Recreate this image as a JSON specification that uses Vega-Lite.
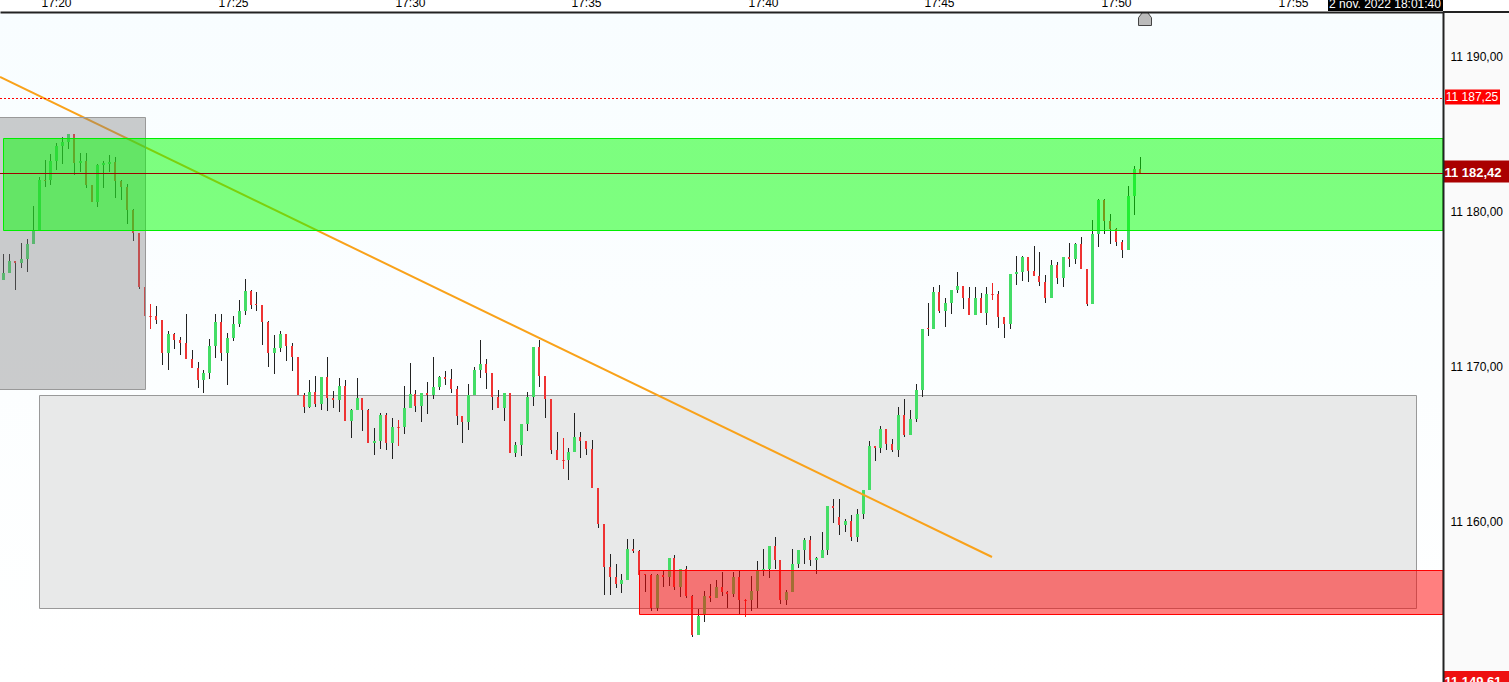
{
"$schema":"https://vega.github.io/schema/vega-lite/v6.json",
"width":1443,"height":670,
"autosize":{"type":"none"},
"padding":{"left":0,"top":12,"right":66,"bottom":0},
"background":"#ffffff",
"view":{"stroke":null,"fill":{"x1":0,"y1":0,"x2":0,"y2":1,"gradient":"linear","stops":[{"offset":0,"color":"#f8fdff"},{"offset":1,"color":"#ffffff"}]}},
"datasets":{
"zones":[
{"zone":"range","start":62370.6,"end":64709.7,"top":11168.13,"bottom":11154.39},
{"zone":"box","start":62290,"end":62550.7,"top":11186.06,"bottom":11168.52},
{"zone":"supply","start":62309.5,"end":64755.5,"top":11184.71,"bottom":11178.77},
{"zone":"demand","start":63389.8,"end":64755.5,"top":11156.84,"bottom":11154.00},
{"zone":"panel","start":64755.5,"end":64875,"top":11192.84,"bottom":11149.61},
{"zone":"clock","start":64560,"end":64755.5,"top":11193.70,"bottom":11192.90}
],
"trend":[
{"t":62304.4,"price":11188.65},
{"t":63989.5,"price":11157.68}
],
"candles":[
{"t":62310,"open":11175.55,"high":11177.23,"low":11175.55,"close":11176.00},
{"t":62320,"open":11176.00,"high":11177.23,"low":11176.00,"close":11176.78},
{"t":62330,"open":11176.78,"high":11176.78,"low":11174.91,"close":11176.65},
{"t":62340,"open":11176.65,"high":11177.92,"low":11176.33,"close":11176.91},
{"t":62350,"open":11176.91,"high":11178.20,"low":11176.07,"close":11177.87},
{"t":62360,"open":11177.87,"high":11180.33,"low":11177.87,"close":11178.78},
{"t":62370,"open":11178.78,"high":11182.20,"low":11178.78,"close":11182.00},
{"t":62380,"open":11182.00,"high":11183.29,"low":11181.55,"close":11181.94},
{"t":62390,"open":11182.00,"high":11183.68,"low":11181.68,"close":11183.23},
{"t":62400,"open":11183.23,"high":11184.39,"low":11182.65,"close":11184.20},
{"t":62410,"open":11184.20,"high":11184.78,"low":11183.04,"close":11184.46},
{"t":62420,"open":11184.46,"high":11184.97,"low":11184.00,"close":11184.97},
{"t":62430,"open":11184.97,"high":11184.97,"low":11182.33,"close":11183.10},
{"t":62440,"open":11183.10,"high":11183.75,"low":11182.52,"close":11183.23},
{"t":62450,"open":11183.23,"high":11183.75,"low":11181.49,"close":11181.68},
{"t":62460,"open":11181.68,"high":11181.68,"low":11180.58,"close":11180.58},
{"t":62470,"open":11180.58,"high":11183.04,"low":11180.26,"close":11182.97},
{"t":62480,"open":11182.97,"high":11183.23,"low":11181.49,"close":11183.10},
{"t":62490,"open":11183.04,"high":11183.62,"low":11182.52,"close":11183.17},
{"t":62500,"open":11183.17,"high":11183.49,"low":11180.84,"close":11181.94},
{"t":62510,"open":11181.94,"high":11182.00,"low":11180.71,"close":11181.55},
{"t":62520,"open":11181.55,"high":11181.75,"low":11179.17,"close":11180.07},
{"t":62530,"open":11180.07,"high":11180.13,"low":11178.07,"close":11178.58},
{"t":62540,"open":11178.58,"high":11178.58,"low":11174.97,"close":11175.10},
{"t":62550,"open":11175.10,"high":11175.10,"low":11173.23,"close":11173.23},
{"t":62560,"open":11173.21,"high":11174.00,"low":11172.39,"close":11173.21},
{"t":62570,"open":11173.23,"high":11173.87,"low":11172.71,"close":11172.97},
{"t":62580,"open":11172.97,"high":11172.97,"low":11170.07,"close":11170.84},
{"t":62590,"open":11170.84,"high":11172.26,"low":11169.75,"close":11172.07},
{"t":62600,"open":11172.07,"high":11172.13,"low":11171.10,"close":11171.68},
{"t":62610,"open":11171.68,"high":11171.87,"low":11170.71,"close":11171.49},
{"t":62620,"open":11171.49,"high":11173.36,"low":11170.46,"close":11170.46},
{"t":62630,"open":11170.46,"high":11171.04,"low":11169.87,"close":11169.87},
{"t":62640,"open":11169.87,"high":11170.26,"low":11168.58,"close":11169.10},
{"t":62650,"open":11169.10,"high":11169.75,"low":11168.26,"close":11169.55},
{"t":62660,"open":11169.55,"high":11171.75,"low":11169.17,"close":11171.29},
{"t":62670,"open":11171.29,"high":11173.36,"low":11170.52,"close":11172.84},
{"t":62680,"open":11172.84,"high":11173.36,"low":11170.33,"close":11170.84},
{"t":62690,"open":11170.84,"high":11172.13,"low":11168.78,"close":11171.81},
{"t":62700,"open":11171.81,"high":11173.23,"low":11171.62,"close":11172.71},
{"t":62710,"open":11172.71,"high":11174.26,"low":11172.52,"close":11173.55},
{"t":62720,"open":11173.55,"high":11175.62,"low":11173.29,"close":11174.84},
{"t":62730,"open":11174.84,"high":11174.91,"low":11173.68,"close":11173.94},
{"t":62740,"open":11174.00,"high":11174.78,"low":11173.55,"close":11173.94},
{"t":62750,"open":11173.94,"high":11173.94,"low":11171.36,"close":11172.84},
{"t":62760,"open":11172.84,"high":11172.91,"low":11169.94,"close":11170.84},
{"t":62770,"open":11170.84,"high":11172.00,"low":11169.49,"close":11171.17},
{"t":62780,"open":11171.17,"high":11172.26,"low":11170.91,"close":11172.07},
{"t":62790,"open":11172.07,"high":11172.07,"low":11170.33,"close":11171.29},
{"t":62800,"open":11171.29,"high":11171.49,"low":11169.68,"close":11170.58},
{"t":62810,"open":11170.58,"high":11170.58,"low":11168.13,"close":11168.13},
{"t":62820,"open":11168.13,"high":11168.26,"low":11166.97,"close":11167.35},
{"t":62830,"open":11167.35,"high":11169.09,"low":11167.29,"close":11168.32},
{"t":62840,"open":11168.32,"high":11169.35,"low":11167.35,"close":11167.55},
{"t":62850,"open":11167.55,"high":11169.29,"low":11167.16,"close":11169.29},
{"t":62860,"open":11169.29,"high":11170.58,"low":11167.09,"close":11167.93},
{"t":62870,"open":11167.93,"high":11168.38,"low":11167.29,"close":11167.80},
{"t":62880,"open":11167.80,"high":11169.22,"low":11167.03,"close":11168.71},
{"t":62890,"open":11168.71,"high":11169.09,"low":11166.45,"close":11166.45},
{"t":62900,"open":11166.45,"high":11167.22,"low":11165.35,"close":11167.16},
{"t":62910,"open":11167.16,"high":11169.22,"low":11167.16,"close":11167.93},
{"t":62920,"open":11167.93,"high":11167.93,"low":11165.80,"close":11167.16},
{"t":62930,"open":11167.16,"high":11167.22,"low":11165.03,"close":11165.03},
{"t":62940,"open":11165.03,"high":11166.00,"low":11164.26,"close":11165.16},
{"t":62950,"open":11165.16,"high":11166.97,"low":11164.64,"close":11166.84},
{"t":62960,"open":11166.84,"high":11166.97,"low":11164.58,"close":11165.03},
{"t":62970,"open":11165.03,"high":11166.64,"low":11164.00,"close":11166.06},
{"t":62980,"open":11166.04,"high":11166.51,"low":11164.84,"close":11166.04},
{"t":62990,"open":11166.06,"high":11168.71,"low":11165.61,"close":11167.29},
{"t":63000,"open":11167.29,"high":11170.19,"low":11167.29,"close":11168.19},
{"t":63010,"open":11168.19,"high":11168.45,"low":11167.03,"close":11167.42},
{"t":63020,"open":11167.42,"high":11168.26,"low":11166.38,"close":11168.26},
{"t":63030,"open":11168.26,"high":11168.97,"low":11166.90,"close":11168.13},
{"t":63040,"open":11168.13,"high":11170.58,"low":11167.87,"close":11168.64},
{"t":63050,"open":11168.64,"high":11169.35,"low":11168.45,"close":11169.29},
{"t":63060,"open":11169.29,"high":11169.67,"low":11168.77,"close":11169.16},
{"t":63070,"open":11169.16,"high":11169.80,"low":11168.26,"close":11168.51},
{"t":63080,"open":11168.51,"high":11168.71,"low":11166.19,"close":11166.77},
{"t":63090,"open":11166.77,"high":11166.77,"low":11165.03,"close":11166.38},
{"t":63100,"open":11166.38,"high":11168.84,"low":11165.87,"close":11168.13},
{"t":63110,"open":11168.13,"high":11169.93,"low":11168.13,"close":11169.74},
{"t":63120,"open":11169.74,"high":11171.67,"low":11169.22,"close":11170.13},
{"t":63130,"open":11170.13,"high":11170.45,"low":11168.51,"close":11169.55},
{"t":63140,"open":11169.55,"high":11169.55,"low":11167.16,"close":11168.00},
{"t":63150,"open":11168.00,"high":11168.45,"low":11167.29,"close":11167.29},
{"t":63160,"open":11167.29,"high":11168.26,"low":11166.45,"close":11168.26},
{"t":63170,"open":11168.26,"high":11168.26,"low":11164.38,"close":11164.38},
{"t":63180,"open":11164.38,"high":11165.09,"low":11164.13,"close":11164.90},
{"t":63190,"open":11164.90,"high":11166.26,"low":11164.19,"close":11166.26},
{"t":63200,"open":11166.26,"high":11168.32,"low":11165.80,"close":11168.00},
{"t":63210,"open":11168.00,"high":11171.22,"low":11167.42,"close":11171.22},
{"t":63220,"open":11171.22,"high":11171.67,"low":11168.64,"close":11169.35},
{"t":63230,"open":11169.35,"high":11169.35,"low":11166.64,"close":11167.87},
{"t":63240,"open":11167.87,"high":11167.87,"low":11164.32,"close":11164.58},
{"t":63250,"open":11164.58,"high":11165.74,"low":11163.93,"close":11163.93},
{"t":63260,"open":11163.91,"high":11165.35,"low":11163.35,"close":11163.91},
{"t":63270,"open":11163.93,"high":11164.71,"low":11162.64,"close":11164.45},
{"t":63280,"open":11164.45,"high":11166.97,"low":11164.45,"close":11165.42},
{"t":63290,"open":11165.42,"high":11165.74,"low":11164.06,"close":11165.16},
{"t":63300,"open":11165.16,"high":11165.16,"low":11164.26,"close":11164.64},
{"t":63310,"open":11164.65,"high":11165.23,"low":11162.13,"close":11162.13},
{"t":63320,"open":11162.13,"high":11162.13,"low":11159.55,"close":11159.81},
{"t":63330,"open":11159.81,"high":11159.81,"low":11155.23,"close":11157.04},
{"t":63340,"open":11157.04,"high":11157.88,"low":11155.23,"close":11156.39},
{"t":63350,"open":11156.39,"high":11157.23,"low":11155.68,"close":11155.94},
{"t":63360,"open":11155.94,"high":11156.59,"low":11155.36,"close":11156.20},
{"t":63370,"open":11156.20,"high":11158.84,"low":11156.20,"close":11158.20},
{"t":63380,"open":11158.20,"high":11158.84,"low":11157.94,"close":11158.07},
{"t":63390,"open":11158.07,"high":11158.13,"low":11156.52,"close":11156.52},
{"t":63400,"open":11156.59,"high":11156.59,"low":11155.42,"close":11156.52},
{"t":63410,"open":11156.52,"high":11156.59,"low":11154.20,"close":11154.39},
{"t":63420,"open":11154.39,"high":11156.59,"low":11154.20,"close":11156.52},
{"t":63430,"open":11156.52,"high":11156.84,"low":11155.75,"close":11156.39},
{"t":63440,"open":11156.39,"high":11157.62,"low":11155.81,"close":11157.62},
{"t":63450,"open":11157.62,"high":11157.81,"low":11155.55,"close":11155.75},
{"t":63460,"open":11155.75,"high":11156.91,"low":11155.10,"close":11156.91},
{"t":63470,"open":11156.91,"high":11157.10,"low":11155.04,"close":11155.17},
{"t":63480,"open":11155.17,"high":11155.23,"low":11152.52,"close":11152.65},
{"t":63490,"open":11152.65,"high":11154.33,"low":11152.65,"close":11153.88},
{"t":63500,"open":11153.94,"high":11155.49,"low":11153.49,"close":11155.17},
{"t":63510,"open":11155.17,"high":11155.94,"low":11154.78,"close":11155.04},
{"t":63520,"open":11155.04,"high":11156.20,"low":11155.04,"close":11155.75},
{"t":63530,"open":11155.75,"high":11156.71,"low":11155.17,"close":11155.42},
{"t":63540,"open":11155.42,"high":11155.49,"low":11154.39,"close":11155.30},
{"t":63550,"open":11155.30,"high":11156.71,"low":11155.10,"close":11156.39},
{"t":63560,"open":11156.39,"high":11156.84,"low":11154.00,"close":11154.91},
{"t":63570,"open":11154.89,"high":11154.97,"low":11153.81,"close":11154.89},
{"t":63580,"open":11154.91,"high":11156.46,"low":11154.20,"close":11155.49},
{"t":63590,"open":11155.49,"high":11157.42,"low":11154.39,"close":11156.78},
{"t":63600,"open":11156.78,"high":11158.20,"low":11156.46,"close":11156.91},
{"t":63610,"open":11156.91,"high":11158.39,"low":11156.33,"close":11158.39},
{"t":63620,"open":11158.39,"high":11158.97,"low":11156.91,"close":11157.49},
{"t":63630,"open":11157.49,"high":11157.49,"low":11154.65,"close":11154.91},
{"t":63640,"open":11154.91,"high":11155.55,"low":11154.59,"close":11155.42},
{"t":63650,"open":11155.42,"high":11158.20,"low":11155.42,"close":11157.23},
{"t":63660,"open":11157.23,"high":11158.13,"low":11156.97,"close":11158.13},
{"t":63670,"open":11158.13,"high":11158.91,"low":11157.23,"close":11158.78},
{"t":63680,"open":11158.78,"high":11159.04,"low":11157.10,"close":11157.49},
{"t":63690,"open":11157.49,"high":11157.68,"low":11156.59,"close":11157.62},
{"t":63700,"open":11157.62,"high":11159.30,"low":11157.62,"close":11158.13},
{"t":63710,"open":11158.13,"high":11160.97,"low":11157.81,"close":11160.97},
{"t":63720,"open":11160.97,"high":11161.42,"low":11159.88,"close":11160.84},
{"t":63730,"open":11160.26,"high":11161.42,"low":11159.10,"close":11159.75},
{"t":63740,"open":11159.75,"high":11160.13,"low":11159.30,"close":11160.00},
{"t":63750,"open":11160.00,"high":11160.39,"low":11158.71,"close":11158.97},
{"t":63760,"open":11158.97,"high":11160.78,"low":11158.65,"close":11160.46},
{"t":63770,"open":11160.46,"high":11162.00,"low":11160.13,"close":11162.00},
{"t":63780,"open":11162.00,"high":11165.16,"low":11162.00,"close":11164.84},
{"t":63790,"open":11164.84,"high":11164.84,"low":11163.87,"close":11164.71},
{"t":63800,"open":11164.71,"high":11166.13,"low":11164.38,"close":11165.93},
{"t":63810,"open":11165.93,"high":11165.93,"low":11164.58,"close":11164.96},
{"t":63820,"open":11164.96,"high":11165.29,"low":11164.45,"close":11164.58},
{"t":63830,"open":11164.58,"high":11167.35,"low":11164.13,"close":11166.84},
{"t":63840,"open":11166.84,"high":11167.87,"low":11165.42,"close":11165.54},
{"t":63850,"open":11165.54,"high":11167.16,"low":11165.54,"close":11166.58},
{"t":63860,"open":11166.58,"high":11168.84,"low":11166.38,"close":11168.45},
{"t":63870,"open":11168.45,"high":11172.38,"low":11168.00,"close":11172.38},
{"t":63880,"open":11172.45,"high":11174.06,"low":11171.93,"close":11172.38},
{"t":63890,"open":11172.38,"high":11175.09,"low":11172.38,"close":11174.77},
{"t":63900,"open":11174.77,"high":11175.22,"low":11173.42,"close":11173.54},
{"t":63910,"open":11173.54,"high":11174.38,"low":11172.51,"close":11174.06},
{"t":63920,"open":11174.06,"high":11174.90,"low":11173.35,"close":11174.90},
{"t":63930,"open":11174.90,"high":11176.06,"low":11174.71,"close":11175.16},
{"t":63940,"open":11175.16,"high":11175.16,"low":11173.67,"close":11174.38},
{"t":63950,"open":11174.38,"high":11175.09,"low":11173.29,"close":11173.29},
{"t":63960,"open":11173.29,"high":11175.09,"low":11173.29,"close":11174.38},
{"t":63970,"open":11174.38,"high":11174.71,"low":11173.42,"close":11173.42},
{"t":63980,"open":11173.42,"high":11175.09,"low":11172.64,"close":11174.64},
{"t":63990,"open":11174.62,"high":11175.35,"low":11174.25,"close":11174.62},
{"t":64000,"open":11174.64,"high":11174.84,"low":11172.45,"close":11173.16},
{"t":64010,"open":11173.16,"high":11173.16,"low":11171.80,"close":11172.71},
{"t":64020,"open":11172.71,"high":11175.94,"low":11172.39,"close":11175.94},
{"t":64030,"open":11175.94,"high":11177.10,"low":11175.23,"close":11176.07},
{"t":64040,"open":11176.07,"high":11177.10,"low":11175.49,"close":11177.04},
{"t":64050,"open":11177.04,"high":11177.04,"low":11175.42,"close":11176.13},
{"t":64060,"open":11176.13,"high":11177.75,"low":11175.81,"close":11175.81},
{"t":64070,"open":11175.81,"high":11177.36,"low":11175.17,"close":11175.42},
{"t":64080,"open":11175.42,"high":11175.88,"low":11174.07,"close":11174.39},
{"t":64090,"open":11174.39,"high":11176.84,"low":11174.39,"close":11176.52},
{"t":64100,"open":11176.52,"high":11176.71,"low":11175.29,"close":11175.68},
{"t":64110,"open":11175.68,"high":11177.04,"low":11175.10,"close":11177.04},
{"t":64120,"open":11177.04,"high":11177.94,"low":11176.39,"close":11176.91},
{"t":64130,"open":11176.91,"high":11177.94,"low":11176.59,"close":11177.88},
{"t":64140,"open":11177.88,"high":11178.33,"low":11176.26,"close":11176.26},
{"t":64150,"open":11176.26,"high":11176.26,"low":11173.88,"close":11174.00},
{"t":64160,"open":11174.00,"high":11179.42,"low":11174.00,"close":11178.52},
{"t":64170,"open":11178.52,"high":11180.78,"low":11177.68,"close":11180.71},
{"t":64180,"open":11180.71,"high":11180.78,"low":11178.52,"close":11179.36},
{"t":64190,"open":11179.36,"high":11179.81,"low":11177.88,"close":11178.84},
{"t":64200,"open":11178.84,"high":11178.91,"low":11177.75,"close":11178.00},
{"t":64210,"open":11178.00,"high":11178.13,"low":11176.97,"close":11177.49},
{"t":64220,"open":11177.49,"high":11181.62,"low":11177.49,"close":11180.97},
{"t":64230,"open":11180.97,"high":11182.91,"low":11179.75,"close":11182.71},
{"t":64240,"open":11182.71,"high":11183.49,"low":11182.46,"close":11182.46}
]
},
"layer":[
{"data":{"name":"zones"},"transform":[{"filter":"datum.zone=='range'"}],
 "mark":{"type":"rect","fill":"#e8e9e9","stroke":"#999999","strokeWidth":1,"xOffset":0.5,"x2Offset":0.5,"yOffset":0.5,"y2Offset":0.5},
 "encoding":{
  "x":{"field":"start","type":"quantitative","title":null,
   "scale":{"domain":[62304.4,64755.5],"nice":false,"zero":false,"padding":0,"round":true},
   "axis":{"orient":"top","title":null,"values":[62400,62700,63000,63300,63600,63900,64200,64500],"labelExpr":"floor(datum.value/3600)+':'+(floor(datum.value/60)%60)","ticks":false,"grid":false,"labelPadding":3,"labelFontSize":12,"labelColor":"#000000","labelFont":"Liberation Sans","labelFlush":false,"labelOverlap":false,"labelBound":false,"domainColor":"#222222","domainWidth":2,"zindex":1}},
  "x2":{"field":"end"},
  "y":{"field":"top","type":"quantitative","title":null,
   "scale":{"domain":[11149.61,11192.84],"nice":false,"zero":false,"round":true},
   "axis":{"orient":"right","title":null,"values":[11160,11170,11180,11190],"ticks":false,"grid":false,"labelPadding":7,"labelFontSize":12,"labelColor":"#000000","labelFont":"Liberation Sans","labelOverlap":false,"labelBound":false,"domainColor":"#222222","domainWidth":2,"zindex":1,"labelExpr":"replace(replace(format(datum.value,',.2f'),',',' '),'.',',')"}},
  "y2":{"field":"bottom"}}},
{"data":{"name":"candles"},
 "mark":{"type":"rule","strokeWidth":1,"xOffset":0.5},
 "encoding":{"x":{"field":"t","type":"quantitative","title":null},"y":{"field":"high","type":"quantitative","title":null},"y2":{"field":"low"},
  "color":{"condition":{"test":"datum.open==datum.close","value":"#ee2222"},"value":"#222222"}}},
{"data":{"name":"candles"},"transform":[{"filter":"datum.close>datum.open"}],
 "mark":{"type":"bar","width":3,"color":"#44dd66","xOffset":0.5},
 "encoding":{"x":{"field":"t","type":"quantitative","title":null},"y":{"field":"open","type":"quantitative","title":null},"y2":{"field":"close"}}},
{"data":{"name":"candles"},"transform":[{"filter":"datum.close<datum.open"}],
 "mark":{"type":"bar","width":2,"color":"#ee3333"},
 "encoding":{"x":{"field":"t","type":"quantitative","title":null},"y":{"field":"open","type":"quantitative","title":null},"y2":{"field":"close"}}},
{"data":{"name":"candles"},"transform":[{"filter":"datum.close==datum.open"}],
 "mark":{"type":"tick","orient":"horizontal","size":3,"thickness":1,"color":"#ee2222","xOffset":0.5,"yOffset":0.5},
 "encoding":{"x":{"field":"t","type":"quantitative","title":null},"y":{"field":"close","type":"quantitative","title":null}}},
{"data":{"name":"trend"},
 "mark":{"type":"line","color":"#f9a21a","strokeWidth":2},
 "encoding":{"x":{"field":"t","type":"quantitative","title":null},"y":{"field":"price","type":"quantitative","title":null}}},
{"data":{"name":"zones"},"transform":[{"filter":"datum.zone=='box'"}],
 "mark":{"type":"rect","fill":"#808080","fillOpacity":0.4,"stroke":"#999999","strokeWidth":1,"xOffset":0.5,"x2Offset":0.5,"yOffset":0.5,"y2Offset":0.5,"clip":true},
 "encoding":{"x":{"field":"start","type":"quantitative","title":null},"x2":{"field":"end"},"y":{"field":"top","type":"quantitative","title":null},"y2":{"field":"bottom"}}},
{"data":{"name":"zones"},"transform":[{"filter":"datum.zone=='supply'"}],
 "mark":{"type":"rect","fill":"#00ff00","fillOpacity":0.5,"stroke":"#00ee00","strokeWidth":1,"xOffset":0.5,"yOffset":0.5,"y2Offset":0.5},
 "encoding":{"x":{"field":"start","type":"quantitative","title":null},"x2":{"field":"end"},"y":{"field":"top","type":"quantitative","title":null},"y2":{"field":"bottom"}}},
{"data":{"name":"zones"},"transform":[{"filter":"datum.zone=='demand'"}],
 "mark":{"type":"rect","fill":"#ff0000","fillOpacity":0.5,"stroke":"#ff0000","strokeWidth":1,"xOffset":0.5,"yOffset":0.5,"y2Offset":0.5},
 "encoding":{"x":{"field":"start","type":"quantitative","title":null},"x2":{"field":"end"},"y":{"field":"top","type":"quantitative","title":null},"y2":{"field":"bottom"}}},
{"data":{"values":[{"price":11187.25}]},
 "mark":{"type":"rule","color":"#ff0000","strokeWidth":1,"strokeDash":[2,2],"yOffset":-0.5},
 "encoding":{"x":{"datum":62304.4,"type":"quantitative","title":null},"x2":{"datum":64755.5},"y":{"field":"price","type":"quantitative","title":null}}},
{"data":{"values":[{"price":11182.42}]},
 "mark":{"type":"rule","color":"#a00000","strokeWidth":1,"yOffset":0.5},
 "encoding":{"x":{"datum":62304.4,"type":"quantitative","title":null},"x2":{"datum":64755.5},"y":{"field":"price","type":"quantitative","title":null}}},
{"data":{"name":"zones"},"transform":[{"filter":"datum.zone=='panel'"}],
 "mark":{"type":"rect","fill":"#fafafa"},
 "encoding":{"x":{"field":"start","type":"quantitative","title":null},"x2":{"field":"end"},"y":{"field":"top","type":"quantitative","title":null},"y2":{"field":"bottom"}}},
{"data":{"values":[{"price":11192.84}]},
 "mark":{"type":"rule","color":"#222222","strokeWidth":2},
 "encoding":{"x":{"datum":64755.5,"type":"quantitative","title":null},"x2":{"datum":64875},"y":{"field":"price","type":"quantitative","title":null}}},
{"data":{"name":"zones"},"transform":[{"filter":"datum.zone=='clock'"}],
 "mark":{"type":"rect","fill":"#000000"},
 "encoding":{"x":{"field":"start","type":"quantitative","title":null},"x2":{"field":"end"},"y":{"field":"top","type":"quantitative","title":null},"y2":{"field":"bottom"}}},
{"data":{"values":[{"label":"2 nov. 2022 18:01:40","price":11193.13}]},
 "mark":{"type":"text","color":"#ffffff","fontSize":12,"font":"Liberation Sans","align":"center","baseline":"alphabetic"},
 "encoding":{"x":{"datum":64657,"type":"quantitative","title":null},"y":{"field":"price","type":"quantitative","title":null},"text":{"field":"label"}}},
{"data":{"values":[{"price":11187.25}]},
 "mark":{"type":"rule","color":"#ff0000","strokeWidth":15,"strokeCap":"butt","yOffset":-2},
 "encoding":{"x":{"datum":64759,"type":"quantitative","title":null},"x2":{"datum":64852.4},"y":{"field":"price","type":"quantitative","title":null}}},
{"data":{"values":[{"price":11182.42}]},
 "mark":{"type":"rule","color":"#aa0000","strokeWidth":22,"strokeCap":"butt","yOffset":-1.5},
 "encoding":{"x":{"datum":64756,"type":"quantitative","title":null},"x2":{"datum":64875},"y":{"field":"price","type":"quantitative","title":null}}},
{"data":{"values":[{"price":11149.61}]},
 "mark":{"type":"rule","color":"#ee1111","strokeWidth":22,"strokeCap":"butt"},
 "encoding":{"x":{"datum":64756,"type":"quantitative","title":null},"x2":{"datum":64875},"y":{"field":"price","type":"quantitative","title":null}}},
{"data":{"values":[{"label":"11 187,25","price":11187.25}]},
 "mark":{"type":"text","color":"#ffffff","fontSize":12,"font":"Liberation Sans","align":"center","baseline":"middle","yOffset":-2},
 "encoding":{"x":{"datum":64805,"type":"quantitative","title":null},"y":{"field":"price","type":"quantitative","title":null},"text":{"field":"label"}}},
{"data":{"values":[{"label":"11 182,42","price":11182.42},{"label":"11 149,61","price":11149.61}]},
 "mark":{"type":"text","color":"#ffffff","fontSize":13,"fontWeight":"bold","font":"Liberation Sans","align":"center","baseline":"middle"},
 "encoding":{"x":{"datum":64807,"type":"quantitative","title":null},"y":{"field":"price","type":"quantitative","title":null},"text":{"field":"label"}}},
{"data":{"values":[{"t":64250,"price":11192.42}]},
 "mark":{"type":"point","shape":"M-1,-0.2 L-0.4,-1 L0.4,-1 L1,-0.2 L1,1 L-1,1 Z","size":169,"filled":true,"fill":"#bbbbbb","stroke":"#444444","strokeWidth":1,"opacity":1},
 "encoding":{"x":{"field":"t","type":"quantitative","title":null},"y":{"field":"price","type":"quantitative","title":null}}}
]
}
